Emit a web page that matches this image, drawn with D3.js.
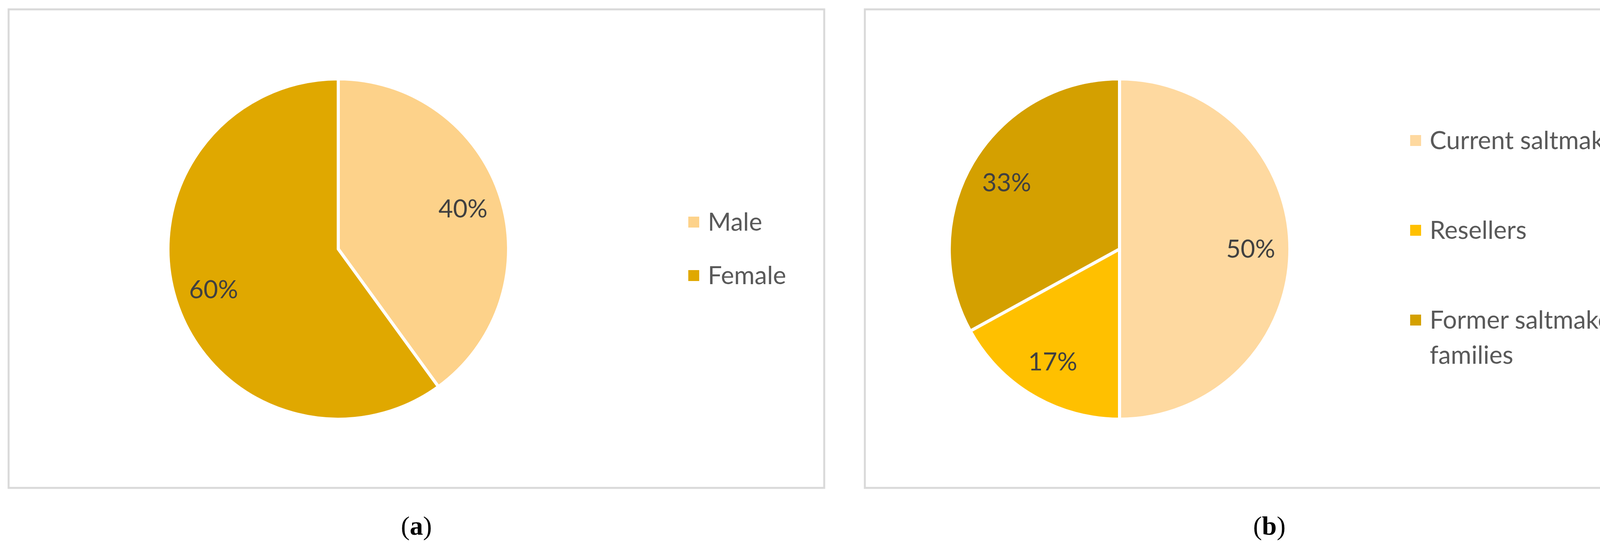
<!DOCTYPE html>
<html>
<head>
<meta charset="utf-8">
<script src="https://d3js.org/d3.v7.min.js"></script>
<style>body{margin:0;background:#fff}</style>
</head>
<body>
<div id="chart"></div>
<script>
// chart (a)
var genderLabels = ["Male", "Female"];
var genderValues = [40, 60];
var genderColors = ["#FDD28A", "#E0A800"];
// chart (b)
var groupLabels = ["Current saltmakers", "Resellers", "Former saltmaker families"];
var groupValues = [50, 17, 33];
var groupColors = ["#FED9A0", "#FFC000", "#D4A000"];
var captions = ["a", "b"];

var width = 4308, height = 1404;
var svg = d3.select("#chart").append("svg")
    .attr("width", width).attr("height", height);

function drawPanel(x0, x1, cx, labels, values, colors, legendX, legendY, legendStep, caption) {
    var g = svg.append("g");
    g.append("rect")
        .attr("x", x0).attr("y", 24)
        .attr("width", x1 - x0).attr("height", 1226)
        .attr("fill", "none").attr("stroke", "#d9d9d9").attr("stroke-width", 5);

    var r = 436, cy = 638;
    var pie = d3.pie().sort(null).value(function(d) { return d; });
    var arc = d3.arc().innerRadius(0).outerRadius(r);
    var labelArc = d3.arc().innerRadius(r * 0.77).outerRadius(r * 0.77);
    var arcs = pie(values);
    var pg = g.append("g").attr("transform", "translate(" + cx + "," + cy + ")");
    pg.selectAll("path").data(arcs).enter().append("path")
        .attr("d", arc)
        .attr("fill", function(d, i) { return colors[i]; })
        .attr("stroke", "#fff").attr("stroke-width", 8);
    pg.selectAll("text").data(arcs).enter().append("text")
        .attr("transform", function(d) { return "translate(" + labelArc.centroid(d) + ")"; })
        .attr("text-anchor", "middle").attr("dy", "0.35em")
        .attr("font-family", "Lato, sans-serif").attr("font-size", 64)
        .attr("fill", "#404040")
        .text(function(d) { return d.data + "%"; });

    labels.forEach(function(l, i) {
        var y = legendY + i * legendStep;
        g.append("rect").attr("x", legendX).attr("y", y - 14)
            .attr("width", 28).attr("height", 28).attr("fill", colors[i]);
        var words = l === "Former saltmaker families" ? ["Former saltmaker", "families"] : [l];
        var t = g.append("text").attr("x", legendX + 50).attr("y", y)
            .attr("font-family", "Lato, sans-serif").attr("font-size", 64)
            .attr("fill", "#595959");
        words.forEach(function(w, j) {
            t.append("tspan").attr("x", legendX + 50).attr("dy", j === 0 ? "0.35em" : "1.4em").text(w);
        });
    });

    var ct = g.append("text").attr("x", (x0 + x1) / 2).attr("y", 1370)
        .attr("text-anchor", "middle")
        .attr("font-family", "'Liberation Serif', serif").attr("font-size", 68)
        .attr("fill", "#000");
    ct.append("tspan").text("(");
    ct.append("tspan").attr("font-weight", "bold").text(caption);
    ct.append("tspan").text(")");
}

drawPanel(22, 2110, 866, genderLabels, genderValues, genderColors, 1762, 569, 137, captions[0]);
drawPanel(2214, 4285, 2866, groupLabels, groupValues, groupColors, 3610, 360, 230, captions[1]);
</script>
</body>
</html>
